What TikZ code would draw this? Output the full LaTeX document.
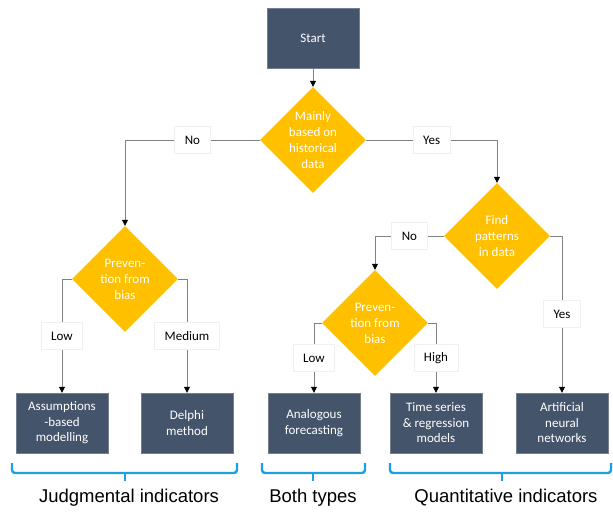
\documentclass[tikz,border=0pt]{standalone}
\usepackage{fontspec}
\setmainfont{Carlito}
\newfontfamily\groupfont{Liberation Sans}
\usetikzlibrary{shapes.geometric}
\usetikzlibrary{arrows.meta}

\definecolor{slate}{HTML}{44546A}
\definecolor{gold}{HTML}{FFC000}
\definecolor{wire}{HTML}{828282}
\definecolor{bracket}{HTML}{1BA1E2}

\tikzset{
  method/.style={rectangle, fill=slate, draw=slate!75!white, minimum width=92pt,
    minimum height=60pt, text=white, align=center, font=\fontsize{13}{15.5}\selectfont},
  decision/.style={diamond, fill=gold, minimum width=106pt, minimum height=106pt, inner sep=0pt},
  dtext/.style={text=white, align=center, font=\fontsize{13}{16}\selectfont},
  answer/.style={fill=white, draw=black!6, minimum height=27pt, inner xsep=10pt,
    font=\fontsize{13}{15}\selectfont},
  flow/.style={draw=wire, line width=0.8pt, -{Triangle[length=6pt,width=6pt,color=black]}},
  group/.style={draw=bracket, line width=2.4pt, rounded corners=3pt},
  grouptext/.style={font=\groupfont\fontsize{18.5}{21}\selectfont},
}

\begin{document}
\begin{tikzpicture}[x=1pt, y=-1pt]
            \useasboundingbox (0, 0) rectangle (613, 518);

            % start and the first question
            \node[method] (start) at (313, 38) {Start};
            \node[decision, label={[dtext]center:Mainly\\based on\\historical\\data}] (hist) at (313, 140) {};

            % the two questions about bias, and the pattern question
            \node[decision, label={[dtext]center:Preven-\\tion from\\bias}] (biasA) at (125, 279) {};
            \node[decision, label={[dtext]center:Find\\patterns\\in data}] (find) at (497, 236) {};
            \node[decision, label={[dtext]center:Preven-\\tion from\\bias}] (biasB) at (375, 323) {};

            % the methods
            \node[method] (assump) at (62, 423) {Assumptions\\-based\\modelling};
            \node[method] (delphi) at (187, 423) {Delphi\\method};
            \node[method] (analog) at (314, 423) {Analogous\\forecasting};
            \node[method] (series) at (436, 423) {Time series\\\& regression\\models};
            \node[method] (neural) at (562, 423) {Artificial\\neural\\networks};

            \draw[flow] (start) -- (hist);
            \draw[flow] (hist.west) -| node[answer, pos=0.25] {No} (biasA.north);
            \draw[flow] (hist.east) -| node[answer, pos=0.25] {Yes} (find.north);
            \draw[flow] (find.west) -| node[answer, pos=0.25] {No} (biasB.north);
            \draw[flow] (find.east) -| node[answer, pos=0.75] {Yes} (neural.north);
            \draw[flow] (biasA.west) -| node[answer, pos=0.75] {Low} (assump.north);
            \draw[flow] (biasA.east) -| node[answer, pos=0.75] {Medium} (delphi.north);
            \draw[flow] (biasB.west) -| node[answer, pos=0.75] {Low} (analog.north);
            \draw[flow] (biasB.east) -| node[answer, pos=0.75] {High} (series.north);

            % brackets under the groups
            \draw[group] (12, 463) -- (12, 473) -- (237, 473) -- (237, 463);
            \draw[group] (125, 473) -- (125, 481);
            \draw[group] (262, 463) -- (262, 473) -- (365, 473) -- (365, 463);
            \draw[group] (313, 473) -- (313, 481);
            \draw[group] (390, 463) -- (390, 473) -- (611, 473) -- (611, 463);
            \draw[group] (502, 473) -- (502, 481);

            \node[grouptext] (judg) at (129, 498) {Judgmental indicators};
            \node[grouptext] (both) at (313, 498) {Both types};
            \node[grouptext] (quant) at (506, 498) {Quantitative indicators};
        \end{tikzpicture}
\end{document}
